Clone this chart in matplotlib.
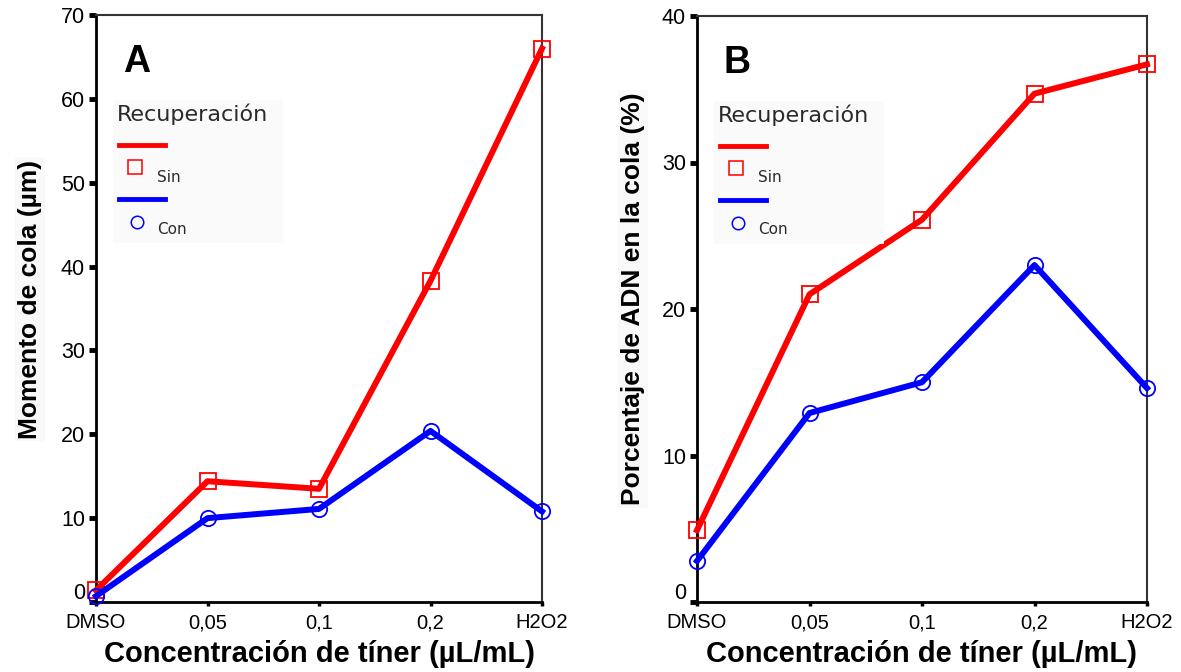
import numpy as np
import matplotlib.pyplot as plt
from matplotlib.transforms import ScaledTranslation

plt.rcParams['font.family'] = ['Liberation Sans', 'DejaVu Sans']

# data
categories = ['DMSO', '0,05', '0,1', '0,2', 'H2O2']
momento_sin = [1.4, 14.4, 13.5, 38.3, 66.0]
momento_con = [0.7, 10.0, 11.1, 20.4, 10.8]
porcentaje_sin = [4.9, 21.0, 26.1, 34.7, 36.7]
porcentaje_con = [2.8, 12.9, 15.0, 23.0, 14.6]

RED = '#ff0000'
BLUE = '#0000ff'

fig = plt.figure(figsize=(11.81, 6.72), dpi=100)
W, H = 1181.0, 672.0


def fx(px):
    return px / W


def fy(py):
    return 1 - py / H


def panel(rect, sin, con, ymax, ystep, ylabel, letter, left_px, top_px, ylab_x):
    ax = fig.add_axes(rect)
    x = np.arange(len(categories))
    ax.plot(x, sin, color=RED, lw=4.3, marker='s', ms=11, mfc='none',
            mec=RED, mew=1.3, clip_on=False, zorder=3)
    ax.plot(x, con, color=BLUE, lw=4.3, marker='o', ms=11, mfc='none',
            mec=BLUE, mew=1.3, clip_on=False, zorder=3)
    ax.set_xlim(0, len(categories) - 1)
    ax.set_ylim(0, ymax)
    ax.set_xticks(x)
    ax.set_xticklabels(categories, fontsize=14.5)
    ax.set_yticks(np.arange(0, ymax + 1, ystep))
    ax.tick_params(axis='y', direction='out', length=5, width=3.5, labelsize=15.5, pad=3)
    ax.tick_params(axis='x', direction='out', length=3, width=2.5, pad=5)
    for s in ['left', 'bottom']:
        ax.spines[s].set_linewidth(2)
        ax.spines[s].set_color('black')
    for s in ['top', 'right']:
        ax.spines[s].set_linewidth(1.5)
        ax.spines[s].set_color('#333333')
    # move the "0" label up a bit like the original
    lab0 = ax.get_yticklabels()[0]
    lab0.set_transform(lab0.get_transform() + ScaledTranslation(0, 8 / 72, fig.dpi_scale_trans))

    ax.set_xlabel('Concentración de tíner (µL/mL)', fontsize=21, fontweight='bold', labelpad=6)
    fig.text(fx(ylab_x), fy(299), ylabel, rotation=90, fontsize=19,
             fontweight='bold', ha='center', va='center',
             bbox=dict(facecolor='#f9f9f9', edgecolor='none', pad=2))

    # panel letter
    fig.text(fx(left_px + 27), fy(top_px + 47), letter, fontsize=27, fontweight='bold',
             ha='left', va='center')

    # legend box drawn by hand
    fig.patches.append(plt.Rectangle((fx(left_px + 17), fy(top_px + 228)),
                                     (170) / W, 143 / H, transform=fig.transFigure,
                                     facecolor='#fafafa', edgecolor='none', zorder=0))
    fig.text(fx(left_px + 21), fy(top_px + 99), 'Recuperación', family='DejaVu Sans',
             fontsize=16, color='#2a2a2a', ha='left', va='center')
    fig.lines.append(plt.Line2D([fx(left_px + 23), fx(left_px + 69)],
                                [fy(top_px + 130)] * 2, color=RED, lw=3.5,
                                transform=fig.transFigure))
    fig.lines.append(plt.Line2D([fx(left_px + 39)], [fy(top_px + 152)], marker='s', ms=10,
                                mfc='none', mec=RED, mew=1.1, transform=fig.transFigure))
    fig.text(fx(left_px + 61), fy(top_px + 162), 'Sin', family='DejaVu Sans', fontsize=11,
             color='#2a2a2a', ha='left', va='center')
    fig.lines.append(plt.Line2D([fx(left_px + 23), fx(left_px + 69)],
                                [fy(top_px + 184)] * 2, color=BLUE, lw=3.5,
                                transform=fig.transFigure))
    fig.lines.append(plt.Line2D([fx(left_px + 41)], [fy(top_px + 207)], marker='o', ms=9,
                                mfc='none', mec=BLUE, mew=1.1, transform=fig.transFigure))
    fig.text(fx(left_px + 61), fy(top_px + 214), 'Con', family='DejaVu Sans', fontsize=11,
             color='#2a2a2a', ha='left', va='center')
    return ax


panel([fx(96), fy(602), 446 / W, 587 / H], momento_sin, momento_con, 70, 10,
      'Momento de cola (µm)', 'A', 96, 15, 30)
panel([fx(697), fy(602), 450 / W, 586 / H], porcentaje_sin, porcentaje_con, 40, 10,
      'Porcentaje de ADN en la cola (%)', 'B', 697, 16, 633)

fig.savefig('out.png', dpi=100)
